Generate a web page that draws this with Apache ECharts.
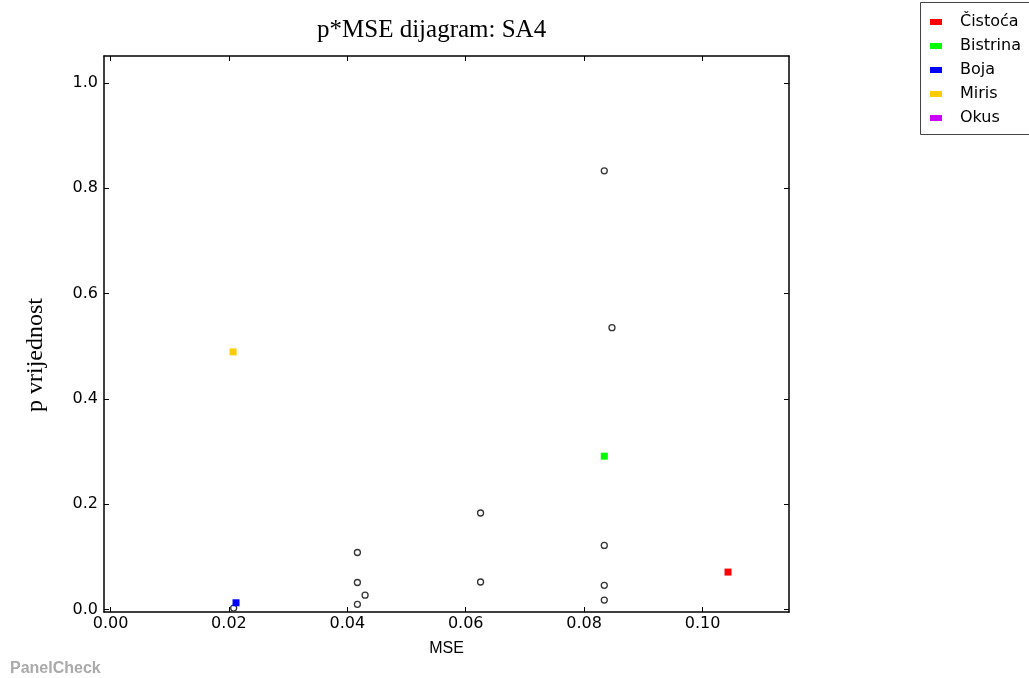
<!DOCTYPE html>
<html>
<head>
<meta charset="utf-8">
<script src="https://cdn.jsdelivr.net/npm/echarts@6/dist/echarts.min.js"></script>
<style>html,body{margin:0;padding:0;background:#fff;}#c{width:1029px;height:678px;}</style>
</head>
<body>
<div id="c"></div>
<script>
// ---- data ----
const xTicks = [0, 0.02, 0.04, 0.06, 0.08, 0.10];
const yTicks = [0, 0.2, 0.4, 0.6, 0.8, 1.0];
const attrNames = ['Čistoća', 'Bistrina', 'Boja', 'Miris', 'Okus'];
const attrColors = ['#ff0000', '#00ff00', '#0000ff', '#ffcc00', '#cc00ff'];
const cistoca = [[0.1043, 0.0708]];
const bistrina = [[0.0834, 0.291]];
const boja = [[0.0212, 0.0125]];
const miris = [[0.0207, 0.489]];
const okus = [];
const others = [
  [0.0834, 0.833], [0.0847, 0.535], [0.0625, 0.183], [0.0625, 0.052],
  [0.0417, 0.108], [0.0417, 0.051], [0.0430, 0.027], [0.0417, 0.0095],
  [0.0208, 0.0025], [0.0834, 0.1215], [0.0834, 0.0456], [0.0834, 0.0177]
];
const attrData = [cistoca, bistrina, boja, miris, okus];

const chart = echarts.init(document.getElementById('c'), null, {renderer: 'canvas'});
const axisCommon = {
  type: 'value',
  axisLine: {show: true, onZero: false, lineStyle: {color: '#000', width: 1.5}},
  splitLine: {show: false}
};
const labelFont = {color: '#000', fontFamily: 'DejaVu Sans', fontSize: 16};
const xRange = {min: -0.0011, max: 0.1146};
const yRange = {min: -0.005, max: 1.051};

const series = [{
  name: 'ostalo', type: 'scatter', data: others, symbol: 'circle', symbolSize: 6,
  itemStyle: {color: '#fff', borderColor: '#333', borderWidth: 1.3, opacity: 1}, silent: true, z: 2
}];
attrNames.forEach((n, i) => series.push({
  name: n, type: 'scatter', data: attrData[i], symbol: 'rect', symbolSize: 7,
  itemStyle: {color: attrColors[i], opacity: 1}, z: 3
}));

chart.setOption({
  animation: false,
  color: attrColors,
  title: {
    text: 'p*MSE dijagram: SA4', left: 312, top: 13,
    textStyle: {fontFamily: 'Liberation Serif', fontWeight: 'normal', fontSize: 25, color: '#000'}
  },
  grid: {left: 104, right: 240, top: 56, bottom: 66},
  xAxis: [
    Object.assign({}, axisCommon, xRange, {
      position: 'bottom',
      name: 'MSE', nameLocation: 'middle', nameGap: 29,
      nameTextStyle: {fontFamily: 'Liberation Sans', fontSize: 16, color: '#000'},
      axisTick: {show: true, inside: true, length: 5, customValues: xTicks, lineStyle: {color: '#000'}},
      axisLabel: Object.assign({customValues: xTicks, margin: 4, formatter: v => v.toFixed(2)}, labelFont)
    }),
    Object.assign({}, axisCommon, xRange, {
      position: 'top',
      axisTick: {show: true, inside: true, length: 5, customValues: xTicks, lineStyle: {color: '#000'}},
      axisLabel: {show: false}
    })
  ],
  yAxis: [
    Object.assign({}, axisCommon, yRange, {
      position: 'left',
      name: 'p vrijednost', nameLocation: 'middle', nameGap: 56, nameRotate: 90,
      nameTextStyle: {fontFamily: 'Liberation Serif', fontSize: 24, color: '#000', padding: [0, 42, 0, 0]},
      axisTick: {show: true, inside: true, length: 5, customValues: yTicks, lineStyle: {color: '#000'}},
      axisLabel: Object.assign({customValues: yTicks, margin: 6, formatter: v => v.toFixed(1)}, labelFont)
    }),
    Object.assign({}, axisCommon, yRange, {
      position: 'right',
      axisTick: {show: true, inside: true, length: 5, customValues: yTicks, lineStyle: {color: '#000'}},
      axisLabel: {show: false}
    })
  ],
  legend: {
    data: attrNames, orient: 'vertical', left: 925, top: 9, z: 10,
    icon: 'rect', itemWidth: 12, itemHeight: 6, itemGap: 8,
    itemStyle: {opacity: 1},
    textStyle: {fontFamily: 'DejaVu Sans', fontSize: 16, color: '#000', padding: [0, 0, 0, 13]},
    selectedMode: false
  },
  graphic: [
    {type: 'rect', left: 920, top: 2, z: -1, shape: {width: 130, height: 132},
     style: {fill: '#fff', stroke: '#444', lineWidth: 1}},
    {type: 'text', left: 10, top: 661, style: {text: 'PanelCheck', fill: '#aaaaaa',
     font: 'bold 16px "Liberation Sans"'}}
  ],
  series: series
});
</script>
</body>
</html>
